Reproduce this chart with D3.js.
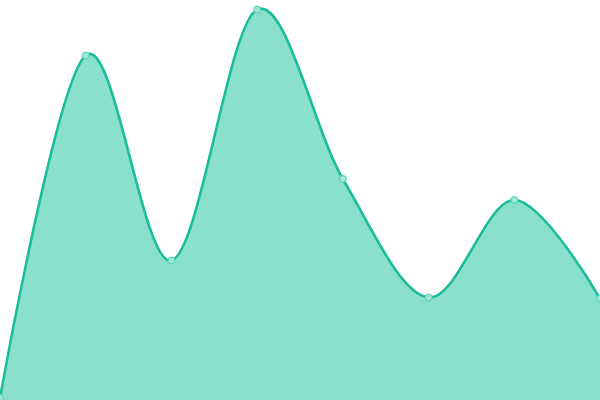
<!DOCTYPE html>
<html>
<head>
<meta charset="utf-8">
<script src="https://cdn.jsdelivr.net/npm/d3@7"></script>
<style>
  html, body { margin: 0; padding: 0; background: #fff; }
  svg { display: block; }
</style>
</head>
<body>
<svg id="chart"></svg>
<script>
const categories = ["A", "B", "C", "D", "E", "F", "G", "H"];
const values = [2, 344.5, 139.5, 390.5, 221, 102.5, 200, 101.5];

const width = 600, height = 400;

const svg = d3.select("#chart").attr("width", width).attr("height", height);

// x scale
const x = d3.scalePoint().domain(categories).range([0, width]);

// y scale
const y = d3.scaleLinear().domain([0, 400]).range([height, 0]);

const curve = d3.curveCardinal.tension(0);

const area = d3.area()
  .x((d, i) => x(categories[i]))
  .y0(y(0))
  .y1((d) => y(d))
  .curve(curve);

const line = d3.line()
  .x((d, i) => x(categories[i]))
  .y((d) => y(d))
  .curve(curve);

svg.append("path")
  .datum(values)
  .attr("d", area)
  .attr("fill", "#8ae0cf");

svg.append("path")
  .datum(values)
  .attr("d", line)
  .attr("fill", "none")
  .attr("stroke", "#1abc9c")
  .attr("stroke-width", 2.6);

// points
svg.append("g")
  .selectAll("circle")
  .data(values)
  .join("circle")
  .attr("cx", (d, i) => x(categories[i]))
  .attr("cy", (d) => y(d))
  .attr("r", 3.5)
  .attr("fill", "#9ee6d7")
  .attr("stroke", "#4fcfb4")
  .attr("stroke-width", 1);
</script>
</body>
</html>
